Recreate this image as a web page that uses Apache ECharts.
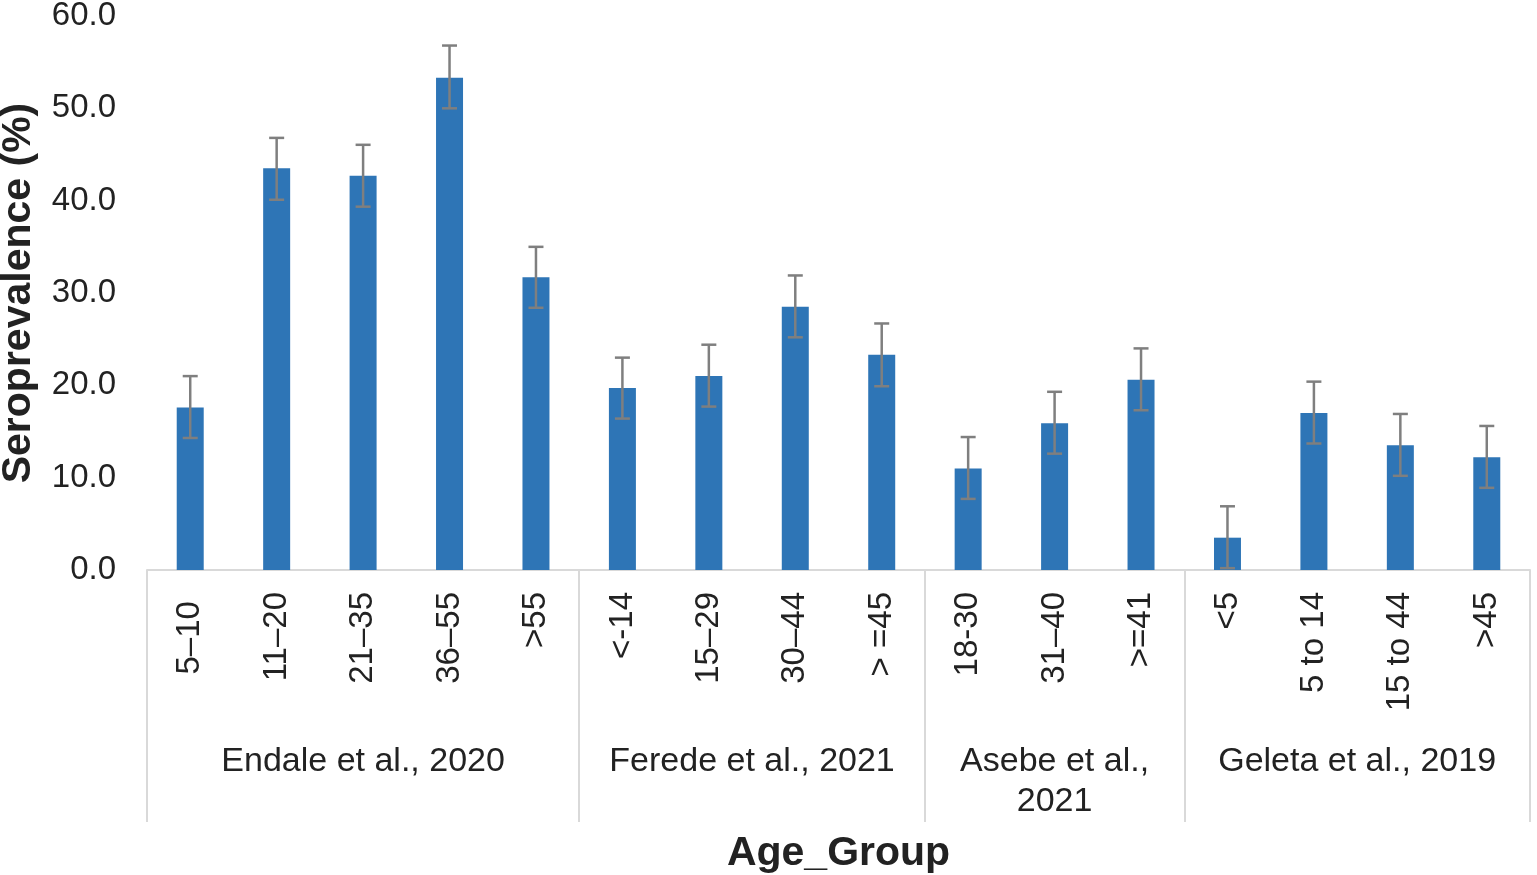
<!DOCTYPE html>
<html>
<head>
<meta charset="utf-8">
<script src="https://cdn.jsdelivr.net/npm/echarts@6/dist/echarts.min.js"></script>
<style>
html,body{margin:0;padding:0;background:#fff;}
#chart{width:1537px;height:875px;}
</style>
</head>
<body>
<div id="chart"></div>
<script>
// Age-group categories (x axis, level 1)
var ageGroups = ['5\u201310 ', '11\u201320', '21\u201335', '36\u201355', '>55',
                 '<-14', '15\u201329', '30\u201344', '> =45',
                 '18-30', '31\u201340', '>=41',
                 '<5', '5 to 14', '15 to 44', '>45'];
// Studies (x axis, level 2) and how many age groups each covers
var studies = ['Endale et al., 2020', 'Ferede et al., 2021', 'Asebe et al.,\n2021', 'Geleta et al., 2019'];
var studySizes = [5, 4, 3, 4];
// Seroprevalence (%)
var seroprevalence = [17.6, 43.5, 42.7, 53.3, 31.7,
                      19.7, 21.0, 28.5, 23.3,
                      11.0, 15.9, 20.6,
                      3.5, 17.0, 13.5, 12.2];
// Error bar lower / upper bounds (%)
var errLow  = [14.3, 40.1, 39.35, 50.0, 28.4,
               16.4, 17.7, 25.2, 19.9,
               7.7, 12.6, 17.3,
               0.2, 13.7, 10.2, 8.9];
var errHigh = [21.0, 46.8, 46.05, 56.8, 35.0,
               23.0, 24.4, 31.9, 26.7,
               14.4, 19.3, 24.0,
               6.9, 20.4, 16.9, 15.6];
var yTicks = [0, 10, 20, 30, 40, 50, 60];

// Build the second-level axis: half-category slots (boundaryGap false)
var nSlots = 2 * ageGroups.length + 1;
var groupSlots = new Array(nSlots).fill('');
var boundarySlots = {0: true};
var labelSlots = {};
var acc = 0;
studies.forEach(function (s, i) {
  var mid = acc + studySizes[i] / 2;
  labelSlots[Math.round(mid * 2)] = true;
  groupSlots[Math.round(mid * 2)] = s;
  acc += studySizes[i];
  boundarySlots[acc * 2] = true;
});

var FONT = 'Liberation Sans, Arial, Helvetica, sans-serif';
var TXT = '#222222';
var chart = echarts.init(document.getElementById('chart'));
chart.setOption({
  animation: false,
  backgroundColor: '#ffffff',
  textStyle: {fontFamily: FONT},
  grid: {left: 147, right: 7, top: 16, bottom: 305, containLabel: false, outerBoundsMode: 'none'},
  xAxis: [{
    type: 'category',
    data: ageGroups,
    position: 'bottom',
    axisLine: {show: true, lineStyle: {color: '#d9d9d9', width: 2}},
    axisTick: {show: false},
    axisLabel: {rotate: 90, margin: 22, fontSize: 33, color: TXT, fontFamily: FONT, interval: 0},
    name: 'Age_Group',
    nameLocation: 'middle',
    nameGap: 263,
    nameTextStyle: {fontSize: 41, fontWeight: 'bold', color: TXT, fontFamily: FONT, verticalAlign: 'top'}
  }, {
    type: 'category',
    data: groupSlots,
    position: 'bottom',
    boundaryGap: false,
    axisLine: {show: false},
    axisTick: {
      show: true,
      length: 252,
      interval: function (idx) { return !!boundarySlots[idx]; },
      lineStyle: {color: '#d9d9d9', width: 2}
    },
    axisLabel: {
      show: true,
      margin: 172,
      fontSize: 34,
      lineHeight: 40,
      color: TXT,
      fontFamily: FONT,
      align: 'center',
      interval: function (idx) { return !!labelSlots[idx]; }
    },
    splitLine: {show: false}
  }],
  yAxis: {
    type: 'value',
    min: yTicks[0],
    max: yTicks[yTicks.length - 1],
    interval: 10,
    axisLine: {show: false},
    axisTick: {show: false},
    splitLine: {show: false},
    axisLabel: {
      margin: 31, fontSize: 33, color: TXT, fontFamily: FONT,
      formatter: function (v) { return v.toFixed(1); }
    },
    name: 'Seroprevalence (%)',
    nameLocation: 'middle',
    nameGap: 108,
    nameRotate: 90,
    nameTextStyle: {fontSize: 41, fontWeight: 'bold', color: TXT, fontFamily: FONT}
  },
  series: [{
    type: 'bar',
    data: seroprevalence,
    barWidth: 27,
    itemStyle: {color: '#2E75B6'},
    xAxisIndex: 0
  }, {
    type: 'custom',
    xAxisIndex: 0,
    data: ageGroups.map(function (c, i) { return [i, errLow[i], errHigh[i]]; }),
    renderItem: function (params, api) {
      var x = api.value(0);
      var lo = api.coord([x, api.value(1)]);
      var hi = api.coord([x, api.value(2)]);
      var hw = 7.5;
      var st = {stroke: '#7f7f7f', lineWidth: 2.5, fill: null};
      return {
        type: 'group',
        children: [
          {type: 'line', shape: {x1: lo[0], y1: lo[1], x2: hi[0], y2: hi[1]}, style: st},
          {type: 'line', shape: {x1: hi[0] - hw, y1: hi[1], x2: hi[0] + hw, y2: hi[1]}, style: st},
          {type: 'line', shape: {x1: lo[0] - hw, y1: lo[1], x2: lo[0] + hw, y2: lo[1]}, style: st}
        ]
      };
    },
    z: 10
  }]
});
</script>
</body>
</html>
